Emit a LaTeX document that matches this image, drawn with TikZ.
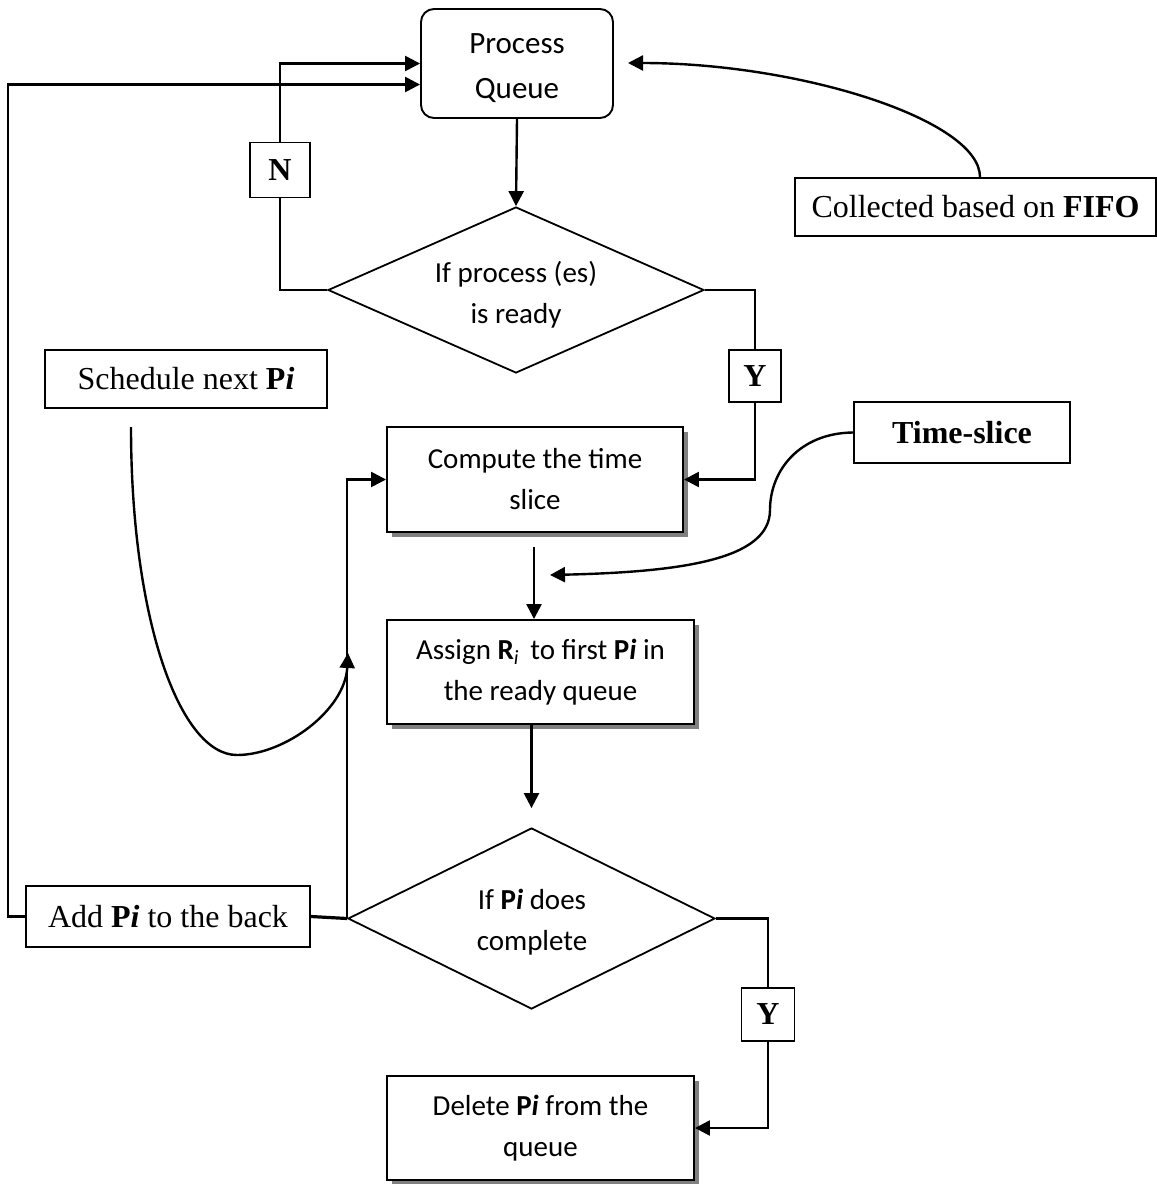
\documentclass[tikz,border=0pt]{standalone}
\usepackage{fontspec}
\setmainfont{Liberation Serif}
\newfontfamily\calib{Carlito}
\usetikzlibrary{arrows.meta,shapes.geometric,shadows,calc}
\begin{document}
\begin{tikzpicture}[x=1pt,y=1pt,
  conn/.style={line width=2.4pt},
  arr/.style={conn,-{Triangle[length=15pt,width=15pt]}},
  tbox/.style={draw,line width=1.9pt,fill=white,inner sep=0pt,font=\fontsize{32}{38}\selectfont,align=center},
  cbox/.style={draw,line width=1.9pt,fill=white,inner sep=0pt,font=\calib\fontsize{29}{41}\selectfont,align=center},
  shad/.style={drop shadow={shadow xshift=5pt,shadow yshift=-5pt,fill=black!50,opacity=1}},
  dia/.style={draw,diamond,line width=1.8pt,inner sep=0pt},
  ctext/.style={font=\calib\fontsize{29}{41}\selectfont,align=center,inner sep=0pt},
]
\useasboundingbox (0,0) rectangle (1157,-1184);

% nodes
\node[cbox,rounded corners=13pt,minimum width=192pt,minimum height=109pt] (pq) at (517,-63.5) {};
\node[ctext,font=\calib\fontsize{31}{45}\selectfont] (pqt) at (517,-68) {Process\\Queue};
\node[dia,minimum width=376pt,minimum height=166pt] (d1) at (516,-290) {};
\node[ctext] (d1t) at (516,-295) {If process (es)\\is ready};
\node[tbox,minimum width=60pt,minimum height=55pt] (nbox) at (280,-170) {\textbf{N}};
\node[tbox,minimum width=52pt,minimum height=52pt] (y1) at (755,-376) {\textbf{Y}};
\node[tbox,minimum width=282pt,minimum height=58pt] (sched) at (186,-379) {Schedule next \textbf{P\textit{i}}};
\node[cbox,shad,minimum width=296pt,minimum height=105pt] (comp) at (535,-479.5) {Compute the time\\slice};
\node[tbox,minimum width=216pt,minimum height=61pt] (ts) at (962,-432.5) {\textbf{Time-slice}};
\node[tbox,minimum width=361pt,minimum height=58pt] (fifo) at (975.5,-207) {Collected based on \textbf{FIFO}};
\node[cbox,shad,minimum width=307pt,minimum height=104pt] (assign) at (540.5,-672) {Assign \textbf{R}\textsubscript{\textit{i}}\, to first \textbf{P\textit{i}} in\\the ready queue};
\node[dia,minimum width=367pt,minimum height=181pt] (d2) at (531.5,-918.5) {};
\node[ctext] (d2t) at (532,-922) {If \textbf{P\textit{i}} does\\complete};
\node[tbox,minimum width=53pt,minimum height=53pt] (y2) at (768,-1014.5) {\textbf{Y}};
\node[tbox,minimum width=284pt,minimum height=61pt] (add) at (168,-916.5) {Add \textbf{P\textit{i}} to the back};
\node[cbox,shad,minimum width=307pt,minimum height=104pt] (del) at (540.5,-1128) {Delete \textbf{P\textit{i}} from the\\queue};

% free-end coordinates
\coordinate (fifotip) at (628,-63);
\coordinate (schedstart) at (131,-427);
\coordinate (schedtip) at (348,-653);
\coordinate (tstip) at (550,-575);
\coordinate (castart) at (534,-547);
\coordinate (lowin) at ([yshift=-21pt]pq.west);

% connectors
\draw[arr] (pq.south) -- (d1.north);
\draw[conn] (d1.west) -| (nbox.south);
\draw[arr] (nbox.north) |- (pq.west);
\draw[conn] (d1.east) -| (y1.north);
\draw[arr] (y1.south) |- (comp.east);
\draw[arr] (add.west) -- ++(-17,0) |- (lowin);
\draw[line width=3.2pt] (add.east) -- (d2.west);
\draw[arr] (d2.west) |- (comp.west);
\draw[arr] (castart) -- (castart |- assign.north);
\draw[arr] (assign.south -| d2.north) -- ([yshift=19pt]d2.north);
\draw[conn] (d2.east) -| (y2.north);
\draw[arr] (y2.south) |- (del.east);

% curved connectors
\draw[arr] ($(fifo.north)+(4.5,0)$) .. controls (980,-120) and (800,-63) .. (fifotip);
\draw[arr] (ts.west) .. controls (800,-433) and (770,-470) .. (770,-510)
  .. controls (770,-560) and (680,-572) .. (tstip);
\draw[arr] (schedstart) .. controls (131,-620) and (180,-755) .. (237,-755)
  .. controls (285,-755) and (345,-710) .. (schedtip);
\end{tikzpicture}
\end{document}
